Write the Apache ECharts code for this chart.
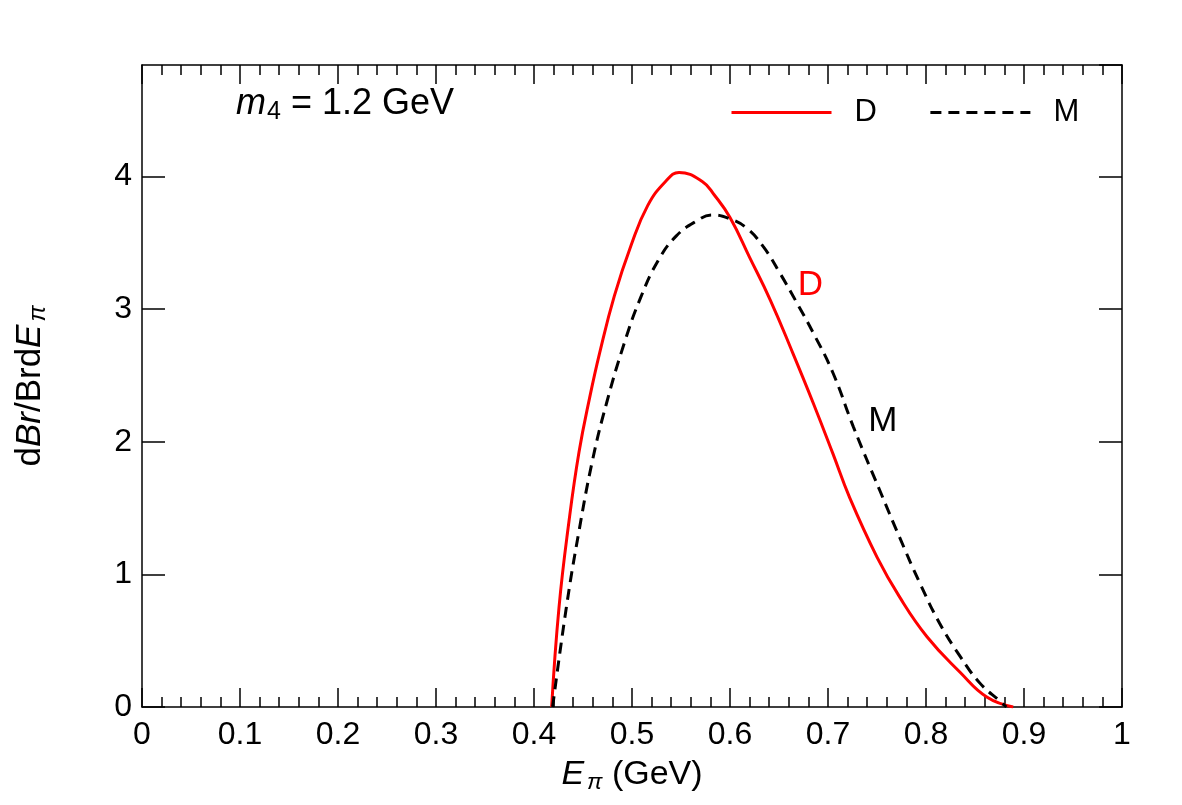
<!DOCTYPE html>
<html>
<head>
<meta charset="utf-8">
<script src="https://cdn.jsdelivr.net/npm/echarts@6/dist/echarts.min.js"></script>
<style>
  html, body { margin: 0; padding: 0; background: #fff; }
  #chart-container { width: 1182px; height: 805px; }
</style>
</head>
<body>
<div id="chart-container"></div>
<script>
// curve D (red, solid) - [E_pi, dBr/BrdE]
const dCurve = [
    [0.418, 0], [0.4255, 0.75], [0.4357, 1.40], [0.4459, 1.92], [0.457, 2.34],
    [0.467, 2.67], [0.482, 3.10], [0.499, 3.48], [0.516, 3.78], [0.534, 3.96],
    [0.548, 4.03], [0.572, 3.96], [0.584, 3.86], [0.600, 3.69], [0.620, 3.39],
    [0.641, 3.07], [0.664, 2.67], [0.685, 2.29], [0.705, 1.91], [0.722, 1.58],
    [0.750, 1.13], [0.773, 0.83], [0.801, 0.53], [0.835, 0.26], [0.862, 0.075],
    [0.889, 0]
];
// curve M (black, dashed)
const mCurve = [
    [0.419, 0], [0.433, 0.75], [0.446, 1.33], [0.460, 1.87], [0.474, 2.29],
    [0.492, 2.74], [0.509, 3.09], [0.527, 3.37], [0.545, 3.55], [0.565, 3.66],
    [0.582, 3.71], [0.600, 3.68], [0.617, 3.61], [0.634, 3.47], [0.651, 3.27],
    [0.668, 3.05], [0.685, 2.82], [0.705, 2.52], [0.726, 2.11], [0.753, 1.63],
    [0.773, 1.28], [0.794, 0.93], [0.814, 0.63], [0.835, 0.38], [0.855, 0.18],
    [0.876, 0.04], [0.882, 0]
];
// in-plot curve labels
const dLabelAt = [0.682, 3.18];
const mLabelAt = [0.756, 2.15];

const xRange = [0, 1];
const yRange = [0, 4.84];

const font = 'Liberation Sans, Arial, sans-serif';

const chartDom = document.getElementById('chart-container');
const myChart = echarts.init(chartDom, null, { renderer: 'canvas' });

const frameLine = { show: true, onZero: false, lineStyle: { color: '#000', width: 1.5 } };
const xTick = { inside: true, length: 19, lineStyle: { color: '#000', width: 1.5 } };
const xMinor = { show: true, splitNumber: 5, length: 10, lineStyle: { color: '#000', width: 1.5 } };
const yTick = { inside: true, length: 23, lineStyle: { color: '#000', width: 1.5 } };

let option = {
    animation: false,
    backgroundColor: '#fff',
    grid: { left: 142, right: 60, top: 65, bottom: 98 },
    legend: {
        data: ['D', 'M'],
        left: 730,
        top: 97,
        padding: 0,
        itemWidth: 100,
        itemHeight: 30,
        itemGap: 52,
        itemStyle: { opacity: 0 },
        lineStyle: { width: 3 },
        textStyle: { fontFamily: font, fontSize: 31, color: '#000', padding: [0, 0, 0, 18] }
    },
    xAxis: [
        {
            type: 'value', min: xRange[0], max: xRange[1], interval: 0.1,
            name: '{e|E}{s|π}{n| (GeV)}',
            nameLocation: 'middle',
            nameGap: 48,
            nameTextStyle: {
                rich: {
                    e: { fontFamily: font, fontSize: 34, fontStyle: 'italic', color: '#000' },
                    s: { fontFamily: font, fontSize: 23, fontStyle: 'italic', color: '#000', padding: [16, 0, 0, 3] },
                    n: { fontFamily: font, fontSize: 34, color: '#000' }
                }
            },
            axisLine: frameLine,
            axisTick: xTick,
            minorTick: xMinor,
            splitLine: { show: false },
            axisLabel: {
                fontFamily: font, fontSize: 32, color: '#000', margin: 12,
                formatter: function (v) { return v === 0 || v === 1 ? String(v) : v.toFixed(1); }
            }
        },
        {
            type: 'value', position: 'top', min: xRange[0], max: xRange[1], interval: 0.1,
            axisLine: frameLine,
            axisTick: xTick,
            minorTick: xMinor,
            splitLine: { show: false },
            axisLabel: { show: false }
        }
    ],
    yAxis: [
        {
            type: 'value', min: yRange[0], max: yRange[1], interval: 1,
            name: '{n|d}{i|Br}{n|/Brd}{i|E}{s|π}',
            nameLocation: 'middle',
            nameGap: 92,
            nameRotate: 90,
            nameTextStyle: {
                rich: {
                    n: { fontFamily: font, fontSize: 35, color: '#000' },
                    i: { fontFamily: font, fontSize: 35, fontStyle: 'italic', color: '#000' },
                    s: { fontFamily: font, fontSize: 24, fontStyle: 'italic', color: '#000', padding: [16, 0, 0, 3] }
                }
            },
            axisLine: frameLine,
            axisTick: yTick,
            splitLine: { show: false },
            axisLabel: {
                fontFamily: font, fontSize: 32, color: '#000', margin: 10,
                showMaxLabel: false,
                formatter: function (v) { return Number.isInteger(v) ? String(v) : ''; }
            }
        },
        {
            type: 'value', position: 'right', min: yRange[0], max: yRange[1], interval: 1,
            axisLine: frameLine,
            axisTick: yTick,
            splitLine: { show: false },
            axisLabel: { show: false }
        }
    ],
    graphic: [
        {
            type: 'text',
            left: 236,
            top: 86,
            style: {
                text: '{i|m}{s|4}{n| = 1.2 GeV}',
                rich: {
                    i: { fontFamily: font, fontSize: 36, fontStyle: 'italic', fill: '#000' },
                    s: { fontFamily: font, fontSize: 25, fill: '#000', padding: [16, 0, 0, 1] },
                    n: { fontFamily: font, fontSize: 36, fill: '#000' }
                }
            }
        }
    ],
    series: [
        {
            name: 'D',
            type: 'line',
            data: dCurve,
            smooth: 0.45,
            showSymbol: false,
            symbol: 'none',
            color: '#ff0000',
            lineStyle: { color: '#ff0000', width: 3 },
            markPoint: {
                symbol: 'circle',
                symbolSize: 0,
                data: [{ coord: dLabelAt, value: 'D' }],
                label: { show: true, position: 'inside', formatter: 'D', fontFamily: font, fontSize: 35, color: '#ff0000' }
            }
        },
        {
            name: 'M',
            type: 'line',
            data: mCurve,
            smooth: 0.45,
            showSymbol: false,
            symbol: 'none',
            color: '#000000',
            lineStyle: { color: '#000', width: 3, type: [11, 7] },
            markPoint: {
                symbol: 'circle',
                symbolSize: 0,
                data: [{ coord: mLabelAt, value: 'M' }],
                label: { show: true, position: 'inside', formatter: 'M', fontFamily: font, fontSize: 35, color: '#000' }
            }
        }
    ]
};
myChart.setOption(option);
</script>
</body>
</html>
